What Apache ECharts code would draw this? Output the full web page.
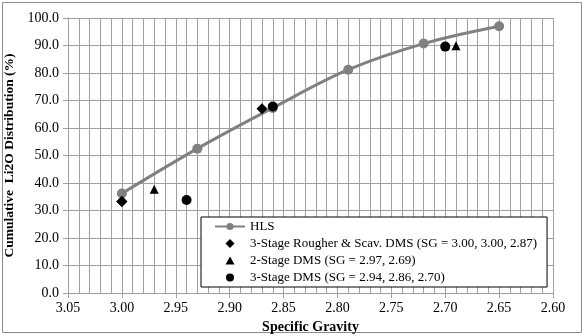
<!DOCTYPE html>
<html>
<head>
<meta charset="utf-8">
<script src="https://cdn.jsdelivr.net/npm/echarts@6/dist/echarts.min.js"></script>
<style>
html,body{margin:0;padding:0;background:#fff;}
#c{width:585px;height:336px;}
</style>
</head>
<body>
<div id="c"></div>
<script>
var hlsData = [[3.00, 36.2], [2.93, 52.5], [2.86, 67.3], [2.79, 81.2], [2.72, 90.7], [2.65, 97.0]];
var roughData = [[3.00, 33.3], [3.00, 33.3], [2.87, 67.0]];
var twoStageData = [[2.97, 37.7], [2.69, 89.9]];
var threeStageData = [[2.94, 33.8], [2.86, 67.8], [2.70, 89.6]];
var seriesNames = ['HLS', '3-Stage Rougher & Scav. DMS (SG = 3.00, 3.00, 2.87)', '2-Stage DMS (SG = 2.97, 2.69)', '3-Stage DMS (SG = 2.94, 2.86, 2.70)'];

var FONT = 'Liberation Serif';
var gridColor = '#a0a0a0';
var diamondIcon = 'path://M0 0M30 9M15 0L19.5 4.5L15 9L10.5 4.5Z';
var triangleIcon = 'path://M0 0M30 9M15 0.5L19.5 8.5L10.5 8.5Z';
var circleIcon = 'path://M0 0M30 9M15 0.5A4 4 0 1 1 15 8.5A4 4 0 1 1 15 0.5Z';
var chart = echarts.init(document.getElementById('c'));
chart.setOption({
  animation: false,
  backgroundColor: '#fff',
  graphic: [{
    type: 'rect', shape: {x: 2.5, y: 2.5, width: 579, height: 330},
    style: {fill: 'none', stroke: '#8c8c8c', lineWidth: 1}, z: -1
  }],
  grid: {left: 68, right: 32, top: 18, bottom: 43, outerBoundsMode: 'none', containLabel: false},
  xAxis: {
    type: 'value', min: 2.6, max: 3.05, interval: 0.05, inverse: true,
    name: 'Specific Gravity', nameLocation: 'middle', nameGap: 25,
    nameTextStyle: {fontFamily: FONT, fontWeight: 'bold', fontSize: 14, color: '#000'},
    axisLine: {show: true, lineStyle: {color: gridColor}},
    axisTick: {show: true, length: 5, lineStyle: {color: gridColor}},
    axisLabel: {fontFamily: FONT, fontSize: 14, color: '#000', margin: 8,
      formatter: function (v) { return v.toFixed(2); }},
    splitLine: {show: true, lineStyle: {color: gridColor}},
    minorTick: {show: false, splitNumber: 5},
    minorSplitLine: {show: true, lineStyle: {color: gridColor}}
  },
  yAxis: {
    type: 'value', min: 0, max: 100, interval: 10,
    name: 'Cumulative  Li2O Distribution (%)', nameLocation: 'middle', nameGap: 48,
    nameTextStyle: {fontFamily: FONT, fontWeight: 'bold', fontSize: 13.5, color: '#000'},
    axisLine: {show: true, lineStyle: {color: gridColor}},
    axisTick: {show: true, length: 5, lineStyle: {color: gridColor}},
    axisLabel: {fontFamily: FONT, fontSize: 14, color: '#000', margin: 9,
      formatter: function (v) { return v.toFixed(1); }},
    splitLine: {show: true, lineStyle: {color: gridColor}}
  },
  legend: {
    orient: 'vertical', left: 201, top: 217,
    padding: [3, 10, 3, 13],
    backgroundColor: '#fff', borderColor: '#000', borderWidth: 1,
    itemWidth: 30, itemHeight: 9, itemGap: 4,
    textStyle: {fontFamily: FONT, fontSize: 13, color: '#000'},
    data: [
      {name: seriesNames[0]},
      {name: seriesNames[1], icon: diamondIcon, itemStyle: {opacity: 1}},
      {name: seriesNames[2], icon: triangleIcon, itemStyle: {opacity: 1}},
      {name: seriesNames[3], icon: circleIcon, itemStyle: {opacity: 1}}
    ]
  },
  series: [
    {name: seriesNames[0], type: 'line', data: hlsData, smooth: 0.35,
      symbol: 'circle', symbolSize: 10, z: 3,
      lineStyle: {color: '#808080', width: 3}, itemStyle: {color: '#808080'}},
    {name: seriesNames[1], type: 'scatter', data: roughData, symbol: 'diamond', symbolSize: 11,
      itemStyle: {color: '#000', opacity: 1}, z: 4},
    {name: seriesNames[2], type: 'scatter', data: twoStageData, symbol: 'triangle', symbolSize: 9,
      itemStyle: {color: '#000', opacity: 1}, z: 4},
    {name: seriesNames[3], type: 'scatter', data: threeStageData, symbol: 'circle', symbolSize: 10,
      itemStyle: {color: '#000', opacity: 1}, z: 4}
  ]
});
</script>
</body>
</html>
